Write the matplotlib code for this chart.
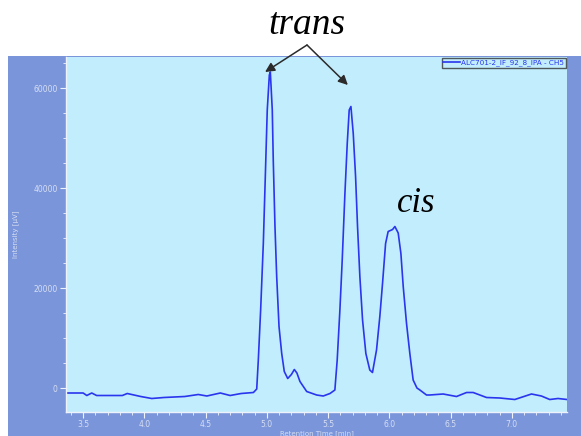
import matplotlib
matplotlib.use("Agg")
import matplotlib.pyplot as plt
from matplotlib.patches import Rectangle
from matplotlib.ticker import MultipleLocator

# chromatogram trace (retention time in min, intensity in uV)
time_min = [3.36, 3.50, 3.53, 3.57, 3.61, 3.82, 3.86, 3.97, 4.06, 4.16, 4.33, 4.44,
            4.51, 4.62, 4.70, 4.79, 4.89, 4.917, 4.930, 4.949, 4.971, 4.987, 5.003,
            5.020, 5.028, 5.044, 5.052, 5.066, 5.080, 5.099, 5.121, 5.142, 5.170,
            5.200, 5.224, 5.245, 5.270, 5.325, 5.406, 5.46, 5.515, 5.555, 5.574,
            5.596, 5.615, 5.637, 5.656, 5.672, 5.686, 5.705, 5.724, 5.740, 5.759,
            5.781, 5.808, 5.840, 5.862, 5.895, 5.922, 5.944, 5.969, 5.990, 6.026,
            6.045, 6.072, 6.094, 6.113, 6.140, 6.167, 6.194, 6.225, 6.249, 6.303,
            6.330, 6.439, 6.548, 6.630, 6.684, 6.793, 6.901, 7.024, 7.160, 7.241,
            7.309, 7.377, 7.45]
intensity = [-1000, -1000, -1500, -1000, -1500, -1500, -1100, -1700, -2100, -1900, -1700, -1300,
             -1600, -1000, -1500, -1100, -900, -200, 5600, 15600, 29000, 42200, 55600,
             62600, 63200, 55600, 45600, 32300, 22300, 12300, 6900, 3300, 1900,
             2700, 3700, 3000, 1300, -700, -1400, -1600, -1100, -400, 5600,
             15600, 25600, 38900, 48900, 55600, 56300, 50900, 42300, 32300, 22300,
             13600, 6900, 3600, 3100, 7600, 14300, 20900, 28900, 31300, 31700,
             32300, 31000, 26900, 20300, 12900, 6900, 1600, 0, -400, -1400,
             -1400, -1200, -1700, -900, -900, -1900, -2000, -2300, -1200, -1600,
             -2300, -2100, -2300]

series_name = "ALC701-2_IF_92_8_IPA - CH5"
x_ticks = [3.5, 4.0, 4.5, 5.0, 5.5, 6.0, 6.5, 7.0]
y_ticks = [0, 20000, 40000, 60000]

W, H = 581, 436
fig = plt.figure(figsize=(W / 100, H / 100), dpi=100, facecolor="white")

# blue frame behind the plot
fig.add_artist(Rectangle((8 / W, 0), 1 - 8 / W, (H - 56) / H, transform=fig.transFigure,
                         facecolor="#7a95da", edgecolor="none", zorder=0))

ax = fig.add_axes([66 / W, 1 - 412 / H, (567 - 66) / W, (412 - 57) / H])
ax.set_facecolor("#c2edfd")
ax.plot(time_min, intensity, color="#2a35ee", lw=1.2, label=series_name)

ax.set_xlim(3.36, 7.45)
ax.set_ylim(-4800, 66200)
ax.set_xticks(x_ticks)
ax.set_yticks(y_ticks)
ax.xaxis.set_minor_locator(MultipleLocator(0.1))
ax.yaxis.set_minor_locator(MultipleLocator(5000))

tick_col = "#d6def2"
for s in ["top", "right"]:
    ax.spines[s].set_visible(False)
for s in ["left", "bottom"]:
    ax.spines[s].set_color("#eef3fb")
    ax.spines[s].set_linewidth(1.0)
ax.tick_params(which="both", colors="#eef3fb", labelcolor=tick_col, labelsize=5.5, direction="out")
ax.tick_params(which="major", length=4, pad=2)
ax.tick_params(which="minor", length=2.5)

ax.set_xlabel("Retention Time [min]", fontsize=5, color=tick_col, labelpad=1)
ax.set_ylabel("Intensity [\u00b5V]", fontsize=5, color=tick_col, labelpad=10)

leg = ax.legend(loc="upper right", fontsize=5.2, frameon=True, fancybox=False,
                borderpad=0.2, handlelength=2.4, handletextpad=0.15,
                borderaxespad=0.15, labelcolor="#2a35ee")
leg.get_frame().set_edgecolor("#333333")
leg.get_frame().set_facecolor("#c2edfd")
leg.get_frame().set_linewidth(1.0)

serif = dict(family=["Liberation Serif", "DejaVu Serif"], style="italic", color="black")
fig.text(307 / W, 1 - 25 / H, "trans", fontsize=27, ha="center", va="center", **serif)
ax.text(6.22, 37000, "cis", fontsize=25, ha="center", va="center", **serif)

# arrows from the label to the two trans peaks
for tip in [(4.985, 63200), (5.661, 60600)]:
    ax.annotate("", xy=tip, xycoords="data", xytext=(307 / W, 1 - 45 / H),
                textcoords="figure fraction", annotation_clip=False,
                arrowprops=dict(arrowstyle="-|>", color="#2b2b2b", lw=1.1,
                                mutation_scale=14, shrinkA=0, shrinkB=0))

fig.savefig("out.png", dpi=100, facecolor="white")
